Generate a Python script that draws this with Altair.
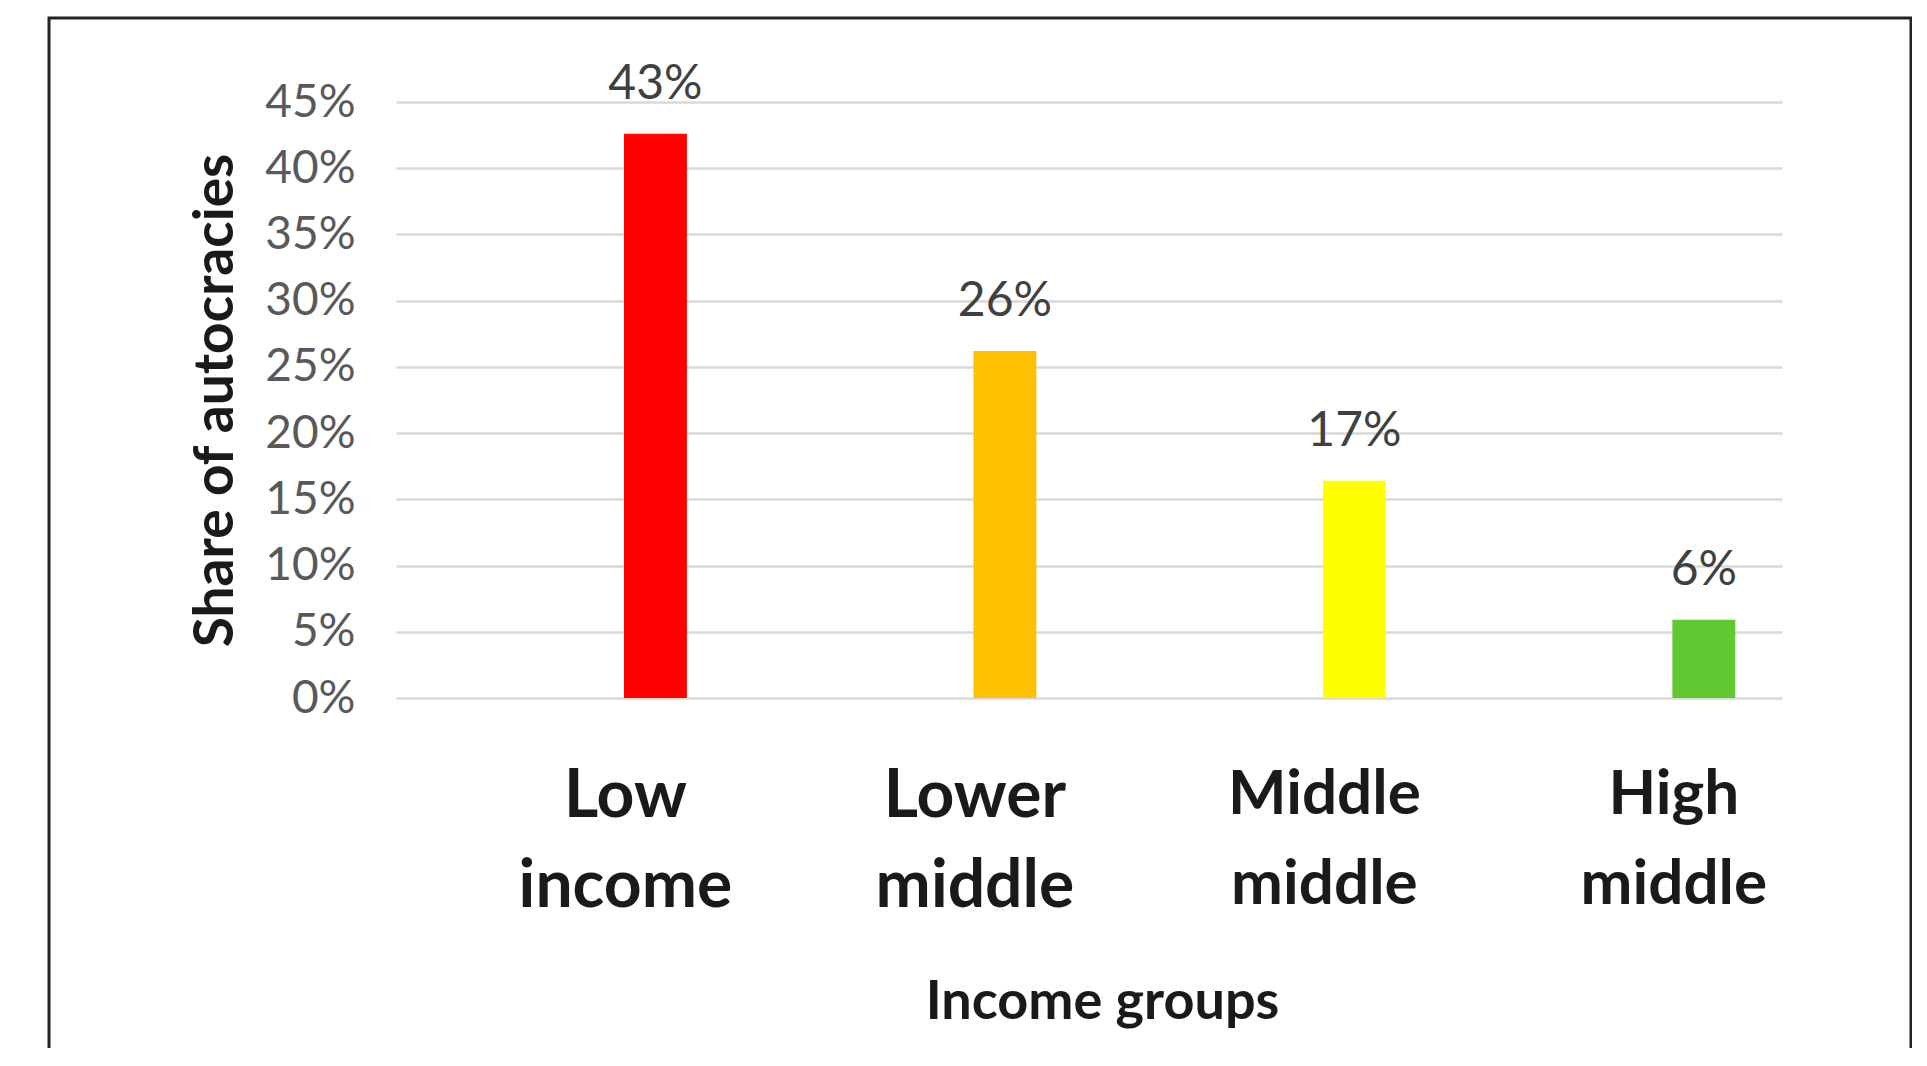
import altair as alt
import pandas as pd

groups = ["Low income", "Lower middle", "Middle middle", "High middle"]
shares = [0.426, 0.262, 0.164, 0.059]
labels = ["43%", "26%", "17%", "6%"]
colors = ["#FF0000", "#FFC000", "#FFFF00", "#62C832"]
y_ticks = [0, 0.05, 0.10, 0.15, 0.20, 0.25, 0.30, 0.35, 0.40, 0.45]

df = pd.DataFrame({"group": groups, "share": shares, "label": labels})

FONT = "Lato"

x_enc = alt.X(
    "group:N",
    sort=groups,
    scale=alt.Scale(paddingInner=0.82, paddingOuter=0.393, align=0.83),
    axis=alt.Axis(
        title="Income groups",
        titleFont=FONT,
        titleFontSize=54,
        titleFontWeight="bold",
        titleColor="#1a1a1a",
        titleX=706,
        titleY=304,
        titleAlign="center",
        titleBaseline="middle",
        labelExpr="split(datum.value, ' ')",
        labelFont=FONT,
        labelFontWeight="bold",
        labelFontSize={"condition": {"test": "indexof(['Low income','Lower middle'], datum.value) >= 0", "value": 66}, "value": 62},
        labelColor="#1a1a1a",
        labelLineHeight=90,
        labelPadding=66,
        labelOffset=-30,
        labelAngle=0,
        labelLimit=0,
        ticks=False,
        tickSize=0,
        domain=False,
        grid=False,
    ),
)

y_enc = alt.Y(
    "share:Q",
    scale=alt.Scale(domain=[0, 0.45], nice=False, zero=True),
    axis=alt.Axis(
        title="Share of autocracies",
        titleFont=FONT,
        titleFontSize=55,
        titleFontWeight="bold",
        titleColor="#1a1a1a",
        titleAngle=270,
        titleX=-181,
        titleY=298,
        titleAlign="center",
        titleBaseline="middle",
        values=y_ticks,
        format=".0%",
        labelFont=FONT,
        labelFontSize=46,
        labelColor="#595959",
        labelPadding=41,
        ticks=False,
        tickSize=0,
        domain=False,
        grid=True,
        gridColor="#d9d9d9",
        gridWidth=2.5,
    ),
)

bars = alt.Chart(df).mark_bar().encode(
    x=x_enc,
    y=y_enc,
    color=alt.Color("group:N", sort=groups, scale=alt.Scale(domain=groups, range=colors), legend=None),
)

text = alt.Chart(df).mark_text(
    font=FONT, fontSize=48, color="#404040", baseline="alphabetic", dy=-35
).encode(
    x=alt.X("group:N", sort=groups),
    y=alt.Y("share:Q"),
    text="label:N",
)

border = alt.Chart(df).mark_rect(
    fill="transparent", stroke="#222222", strokeWidth=3
).encode(
    x=alt.value(-347), x2=alt.value(1515), y=alt.value(-84), y2=alt.value(1000)
).transform_filter("datum.group == 'Low income'")

chart = alt.layer(border, bars, text).properties(
    width=1386,
    height=596,
    background="white",
    autosize=alt.AutoSizeParams(type="none"),
    padding={"left": 388, "top": 94, "right": 130, "bottom": 350},
).configure_view(strokeWidth=0, stroke="transparent")

chart.save("out.html", embed_options={"renderer": "svg", "actions": False})
